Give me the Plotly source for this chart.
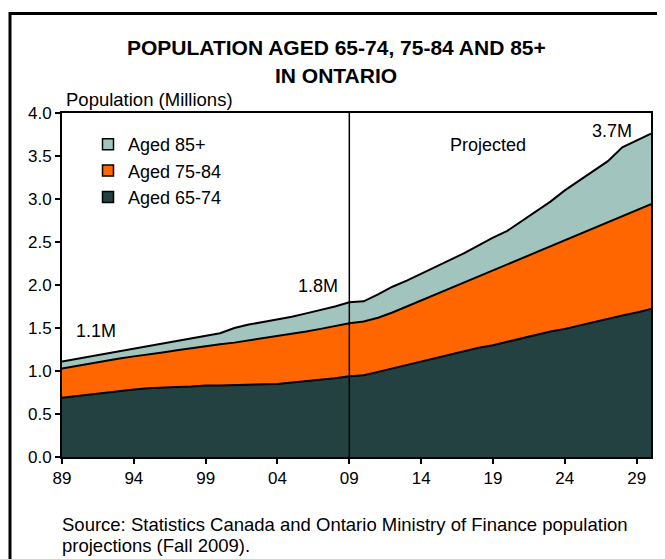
import plotly.graph_objects as go

years = list(range(1989, 2031))

aged_65_74 = [0.69, 0.71, 0.73, 0.75, 0.77, 0.785, 0.80, 0.81, 0.815, 0.82,
              0.83, 0.83, 0.835, 0.84, 0.845, 0.85, 0.865, 0.88, 0.895, 0.915,
              0.94, 0.95, 0.99, 1.03, 1.07, 1.11, 1.15, 1.19, 1.23, 1.27,
              1.30, 1.34, 1.38, 1.42, 1.46, 1.49, 1.53, 1.57, 1.61, 1.645,
              1.68, 1.72]

aged_75_84 = [0.34, 0.35, 0.36, 0.37, 0.375, 0.385, 0.39, 0.405, 0.425, 0.445,
              0.46, 0.48, 0.495, 0.515, 0.535, 0.56, 0.565, 0.58, 0.595, 0.605,
              0.615, 0.625, 0.63, 0.65, 0.68, 0.71, 0.74, 0.77, 0.80, 0.83,
              0.87, 0.90, 0.93, 0.96, 0.99, 1.03, 1.06, 1.09, 1.12, 1.155,
              1.19, 1.22]

aged_85_plus = [0.08, 0.08, 0.08, 0.08, 0.085, 0.09, 0.10, 0.105, 0.11, 0.115,
                0.12, 0.13, 0.17, 0.185, 0.19, 0.19, 0.20, 0.21, 0.22, 0.23,
                0.245, 0.235, 0.27, 0.30, 0.30, 0.31, 0.32, 0.33, 0.34, 0.36,
                0.38, 0.39, 0.43, 0.47, 0.52, 0.58, 0.62, 0.67, 0.71, 0.80,
                0.81, 0.82]

tick_years = [1989, 1994, 1999, 2004, 2009, 2014, 2019, 2024, 2029]
tick_labels = ["89", "94", "99", "04", "09", "14", "19", "24", "29"]
y_ticks = [0.0, 0.5, 1.0, 1.5, 2.0, 2.5, 3.0, 3.5, 4.0]

series = [
    ("Aged 65-74", aged_65_74, "#234141"),
    ("Aged 75-84", aged_75_84, "#FF6600"),
    ("Aged 85+", aged_85_plus, "#A2C4BE"),
]

FONT = "Arial, Liberation Sans, sans-serif"

fig = go.Figure()
for name, vals, col in series:
    fig.add_trace(go.Scatter(
        x=years, y=vals, name=name, stackgroup="one", mode="lines",
        line=dict(color="black", width=2), fillcolor=col,
        showlegend=False, hoverinfo="x+y+name"))

# legend entries (small squares)
for name, vals, col in reversed(series):
    fig.add_trace(go.Scatter(
        x=[None], y=[None], name=name, mode="markers",
        marker=dict(symbol="square", size=11, color=col,
                    line=dict(color="black", width=1.5)),
        showlegend=True))

# page body has an 8px margin: work in reference-pixel coordinates
OFF = 8
W, H = 665 - OFF, 559 - OFF
PL, PT, PR, PB = 62, 113, 651, 457          # plot box in reference pixels
L, T = PL - OFF, PT - OFF
pw, ph = PR - PL, PB - PT
R, B = W - L - pw, H - T - ph

def px(xp):
    return (xp - PL) / pw

def py(yp):
    return (PB - yp) / ph

fig.update_layout(
    width=W, height=H,
    margin=dict(l=L, r=R, t=T, b=B, pad=0),
    paper_bgcolor="white", plot_bgcolor="white",
    font=dict(family=FONT, size=17, color="black"),
    showlegend=True,
    legend=dict(x=px(88), y=py(126), xanchor="left", yanchor="top",
                traceorder="normal", bgcolor="rgba(0,0,0,0)",
                font=dict(family=FONT, size=18, color="black"),
                itemwidth=30, tracegroupgap=0),
    xaxis=dict(range=[1989, 2030], tickmode="array", tickvals=tick_years,
               ticktext=tick_labels, ticks="outside", ticklen=5, tickwidth=1.5,
               tickcolor="black", showline=True, linecolor="black",
               linewidth=2, mirror=True, showgrid=False, zeroline=False,
               tickfont=dict(size=17)),
    yaxis=dict(range=[0, 4], tickmode="array", tickvals=y_ticks,
               tickformat=".1f", ticks="outside", ticklen=5, tickwidth=1.5,
               tickcolor="black", showline=True, linecolor="black",
               linewidth=2, mirror=True, showgrid=False, zeroline=False,
               tickfont=dict(size=17)),
)

# vertical divider at 2009 (start of projection)
fig.add_shape(type="line", xref="x", yref="paper", x0=2009, x1=2009,
              y0=0, y1=1, line=dict(color="black", width=1.5))

# outer frame
fig.add_shape(type="rect", xref="paper", yref="paper",
              x0=px(10), x1=px(690), y0=py(600), y1=py(13.5),
              line=dict(color="black", width=3), layer="above")

annotations = [
    dict(text="<b>POPULATION AGED 65-74, 75-84 AND 85+</b>", x=336, y=47, size=21),
    dict(text="<b>IN ONTARIO</b>", x=336, y=75, size=21),
    dict(text="Population (Millions)", x=149, y=100, size=18.5),
    dict(text="1.1M", x=96, y=331, size=18),
    dict(text="1.8M", x=318, y=286, size=18),
    dict(text="Projected", x=488, y=145, size=18),
    dict(text="3.7M", x=612, y=131, size=18),
]
for a in annotations:
    fig.add_annotation(text=a["text"], x=px(a["x"]), y=py(a["y"]), xref="paper",
                       yref="paper", showarrow=False, xanchor="center",
                       yanchor="middle", font=dict(family=FONT, size=a["size"],
                                                   color="black"))

source_lines = [
    ("Source: Statistics Canada and Ontario Ministry of Finance population", 524),
    ("projections (Fall 2009).", 545),
]
for txt, yy in source_lines:
    fig.add_annotation(text=txt, x=px(60), y=py(yy), xref="paper", yref="paper",
                       showarrow=False, xanchor="left", yanchor="middle",
                       font=dict(family=FONT, size=18.5, color="black"))

fig.write_html("out.html")
